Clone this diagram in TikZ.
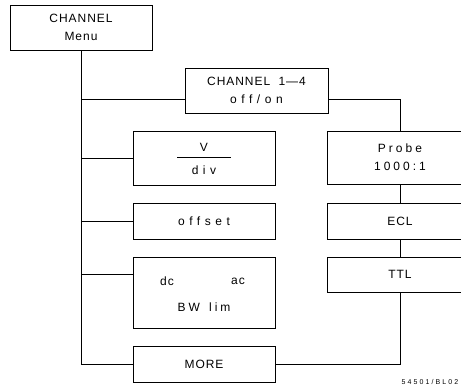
\documentclass[tikz,border=0pt]{standalone}
\usepackage{fontspec}
\setmainfont{Liberation Sans}
\newfontfamily\pfont[LetterSpace=8]{Liberation Sans}
\newfontfamily\mfont[LetterSpace=25]{Liberation Sans}
\newfontfamily\wfont[LetterSpace=38]{Liberation Sans}
\newfontfamily\sfontsm[LetterSpace=30]{Liberation Sans}
\tikzset{
  box/.style={draw, line width=0.8pt, inner sep=0pt, align=center,
    font={\pfont\fontsize{12}{18}\selectfont}},
  lbox/.style={box, minimum width=142pt},
  rbox/.style={box, minimum width=146pt},
  wire/.style={line width=0.8pt},
  txt/.style={inner sep=0pt, font={\pfont\fontsize{12}{14}\selectfont}},
}
\begin{document}
\begin{tikzpicture}[x=1pt,y=-1pt]
\useasboundingbox (0,0) rectangle (461,389);
\clip (0,0) rectangle (461,389);
% boxes
\node[box, minimum width=142pt, minimum height=45pt] (menu) at (81,27.5) {CHANNEL\\Menu};
\node[box, minimum width=143pt, minimum height=45pt] (ch14) at (256.5,90.5) {CHANNEL\hspace{4pt} 1—4\\{\wfont off/on}};
\node[lbox, minimum height=54pt] (vdiv) at (204,158) {};
\node[lbox, minimum height=36pt] (offset) at (204,221) {\wfont offset};
\node[lbox, minimum height=71pt] (dcac) at (204,292.5) {};
\node[lbox, minimum height=36pt] (more) at (204,364) {MORE};
\node[rbox, minimum height=53pt] (probe) at (400,157.5) {\mfont Probe\\\mfont 1000:1};
\node[rbox, minimum height=36pt] (ecl) at (400,221) {ECL};
\node[rbox, minimum height=35pt] (ttl) at (400,274.5) {TTL};
% inner texts
\node[txt] (vt) at (204,147) {V};
\node[txt, font={\wfont\fontsize{12}{14}\selectfont}] (divt) at (204,170) {div};
\coordinate (fl) at (177,157);
\coordinate (fr) at (231,157);
\draw[wire] (fl) -- (fr);
\node[txt] (dct) at (167,281) {dc};
\node[txt] (act) at (238,281) {ac};
\node[txt, font={\mfont\fontsize{12}{14}\selectfont}] (bwt) at (204,307) {BW\hspace{3pt} lim};
\node[inner sep=0pt, font={\sfontsm\fontsize{7}{8}\selectfont}] (fig) at (430,382) {54501/BL02};
% connectors
\coordinate (j1) at (81,99);
\coordinate (j2) at (81,274);
\draw[wire] (menu.south) |- (more.west);
\draw[wire] (j1) -- (j1 -| ch14.west);
\draw[wire] (menu.south |- vdiv.west) -- (vdiv.west);
\draw[wire] (menu.south |- offset.west) -- (offset.west);
\draw[wire] (j2) -- (j2 -| dcac.west);
\draw[wire] (ch14.east |- j1) -| (probe.north);
\draw[wire] (probe.south) -- (ecl.north);
\draw[wire] (ecl.south) -- (ttl.north);
\draw[wire] (ttl.south) |- (more.east);
\end{tikzpicture}
\end{document}
